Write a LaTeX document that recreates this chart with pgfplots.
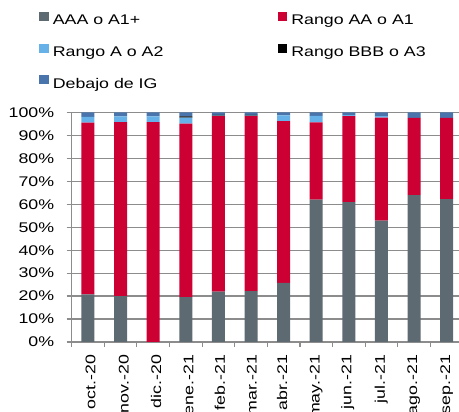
\documentclass[border=0pt]{standalone}
\usepackage{pgfplots}
\usepackage{pgfplotstable}
\pgfplotsset{compat=1.18}
\usepackage{fontspec}
\setmainfont{Liberation Sans}[FakeStretch=1.27]
\definecolor{cAAA}{HTML}{5E6A72}
\definecolor{cAA}{HTML}{CC0033}
\definecolor{cA}{HTML}{66B2E8}
\definecolor{cBBB}{HTML}{000000}
\definecolor{cIG}{HTML}{4A75AC}
\definecolor{gridgray}{HTML}{8C8C8C}
\pgfplotstableread{
x aaa aa a bbb ig
0 20.7 74.9 2.5 0 1.9
1 20.0 75.8 2.5 0 1.7
2 0 95.8 2.5 0 1.7
3 19.6 75.6 2.6 0.5 1.7
4 22.0 76.4 0.2 0.4 1.0
5 22.2 76.2 0.2 0.4 1.0
6 25.8 70.4 2.6 0 1.2
7 62.0 33.7 2.8 0 1.5
8 60.9 37.5 0.5 0 1.1
9 52.9 44.9 0.6 0 1.6
10 64.0 33.7 0 0 2.3
11 62.3 35.4 0 0 2.3
}\data
\newcommand{\xl}[2]{\raisebox{-#1pt}{#2}}
\begin{document}
\begin{tikzpicture}
\begin{axis}[
  scale only axis, width=387.3pt, height=229.5pt,
  xmin=-0.5, xmax=11.38, ymin=0, ymax=100,
  ybar stacked, bar width=13pt,
  axis x line*=bottom, axis y line*=left,
  axis line style={draw=gridgray, line width=1.2pt, -},
  xtick={0,...,11},
  xticklabels={\xl{7.5}{oct.-20},\xl{8}{nov.-20},\xl{8}{dic.-20},\xl{7.5}{ene.-21},\xl{6.5}{feb.-21},\xl{5.5}{mar.-21},\xl{3.5}{abr.-21},\xl{3.5}{may.-21},\xl{2.5}{jun.-21},\xl{3.5}{jul.-21},\xl{3}{ago.-21},\xl{3.5}{sep.-21}},
  major x tick style={draw=none},
  minor xtick={-0.5,0.5,...,11.5},
  ytick={0,10,...,100},
  yticklabel={\pgfmathprintnumber{\tick}\%},
  /pgf/number format/assume math mode=true,
  tick align=outside, major tick length=5pt, minor tick length=5pt,
  every tick/.style={draw=gridgray, line width=1.2pt},
  ymajorgrids, grid style={draw=gridgray, line width=1.2pt},
  tick label style={font=\fontsize{14}{16}\selectfont},
  xticklabel style={rotate=90, anchor=base east, xshift=-4.5pt},
  yticklabel style={xshift=-9pt},
  legend columns=2, legend cell align=left,
  legend style={at={(-0.0837,1.437)}, anchor=north west, draw=none, fill=none,
    inner sep=0pt, outer sep=0pt, /tikz/column sep=4pt, /tikz/row sep=15.8pt,
    nodes={inner sep=0pt, text height=10.5pt, text depth=3pt, font=\fontsize{14}{16}\selectfont}},
  legend image code/.code={\fill[#1] (0pt,0pt) rectangle (9.5pt,9pt);},
]
\addplot[fill=cAAA, draw=none] table[x=x, y=aaa] {\data};
\addplot[fill=cAA, draw=none] table[x=x, y=aa] {\data};
\addplot[fill=cA, draw=none] table[x=x, y=a] {\data};
\addplot[fill=cBBB, draw=none] table[x=x, y=bbb] {\data};
\addplot[fill=cIG, draw=none] table[x=x, y=ig] {\data};
\legend{\makebox[221pt][l]{AAA o A1+},Rango AA o A1,\makebox[221pt][l]{Rango A o A2},Rango BBB o A3,Debajo de IG}
\end{axis}
\pgfresetboundingbox
\path (-71.7pt,-70pt) rectangle (387.3pt,342pt);
\end{tikzpicture}
\end{document}
